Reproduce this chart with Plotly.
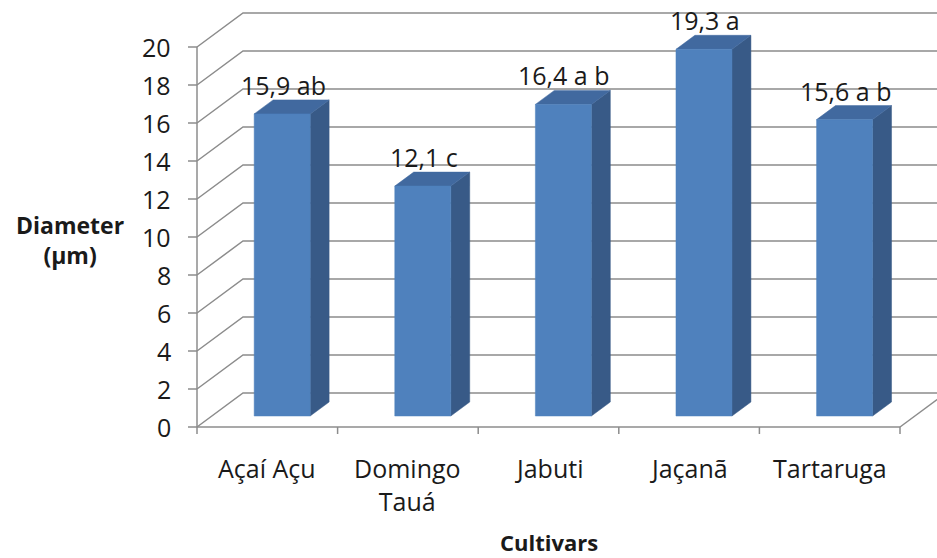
import plotly.graph_objects as go

# ---- data ----
categories = ["Açaí Açu", "Domingo<br>Tauá", "Jabuti", "Jaçanã", "Tartaruga"]
values = [15.9, 12.1, 16.4, 19.3, 15.6]
labels = ["15,9 ab", "12,1 c", "16,4 a b", "19,3 a", "15,6 a b"]
y_ticks = [0, 2, 4, 6, 8, 10, 12, 14, 16, 18, 20]
y_title = "Diameter<br>(µm)"
x_title = "Cultivars"

# ---- geometry (pixel calibration) ----
W, H = 937, 558
PX0, PXU = 197.0, 140.6   # pixel of x=0, pixels per category
PY0, PYU = 427.0, 19.0    # pixel of value 0, pixels per value unit
DX = 46 / PXU             # depth offset in x units
DY = 34 / PYU             # depth offset in value units
D1, D2 = 11 / 34, 25 / 34 # bar front/back depth fractions
HALF = 28 / PXU           # half bar width
GRID = "#8c8c8c"
FONT = "Open Sans"
TXT = "#1a1a1a"

fig = go.Figure()

def poly(xs, ys, color, line=None):
    fig.add_trace(go.Scatter(x=xs + [xs[0]], y=ys + [ys[0]], mode="lines",
                             fill="toself", fillcolor=color,
                             line=dict(color=line or color, width=0.5),
                             hoverinfo="skip"))

def seg(xs, ys, color=GRID, width=1.5):
    fig.add_trace(go.Scatter(x=xs, y=ys, mode="lines",
                             line=dict(color=color, width=width),
                             hoverinfo="skip"))

n = len(categories)
xmax_px = (W - PX0) / PXU

# gridlines: left wall diagonal + back wall horizontal
for v in y_ticks:
    seg([0, DX, xmax_px + 1], [v, v + DY, v + DY])
# floor right edge
seg([n, n + DX], [0, DY])
# axis lines
seg([0, 0], [0, y_ticks[-1]])
seg([0, n], [0, 0])
# y ticks
for v in y_ticks:
    seg([-9 / PXU, 0], [v, v])
# x ticks
for i in range(n + 1):
    seg([i, i], [0, -7 / PYU])

# bars
FRONT, TOP, SIDE = "#4f81bd", "#41699f", "#385a87"
for i, v in enumerate(values):
    c = i + 0.5
    fx0, fx1 = c - HALF + D1 * DX, c + HALF + D1 * DX
    fy0, fy1 = D1 * DY, v + D1 * DY
    bx = (D2 - D1) * DX
    by = (D2 - D1) * DY
    poly([fx1, fx1 + bx, fx1 + bx, fx1], [fy0, fy0 + by, fy1 + by, fy1], SIDE)
    poly([fx0, fx1, fx1 + bx, fx0 + bx], [fy1, fy1, fy1 + by, fy1 + by], TOP)
    poly([fx0, fx1, fx1, fx0], [fy0, fy0, fy1, fy1], FRONT)
    fig.add_annotation(x=(fx0 + fx1) / 2 + 1 / PXU, y=v + D2 * DY + 15 / PYU,
                       text=labels[i], showarrow=False, xanchor="center", yanchor="middle",
                       font=dict(family=FONT, size=25, color=TXT))

# y tick labels
for v in y_ticks:
    fig.add_annotation(x=-24 / PXU, y=v, text=str(v), showarrow=False,
                       xanchor="right", yanchor="middle",
                       font=dict(family=FONT, size=25, color=TXT))
# category labels
for i, cat in enumerate(categories):
    fig.add_annotation(x=i + 0.5, y=-22 / PYU, text=cat, showarrow=False,
                       xanchor="center", yanchor="top",
                       font=dict(family=FONT, size=25, color=TXT))
# axis titles
fig.add_annotation(x=(70 - PX0) / PXU, y=(PY0 - 240) / PYU, text="<b>" + y_title + "</b>",
                   showarrow=False, xanchor="center", yanchor="middle",
                   font=dict(family=FONT, size=23, color=TXT))
fig.add_annotation(x=n / 2, y=(PY0 - 542) / PYU, text="<b>" + x_title + "</b>",
                   showarrow=False, xanchor="center", yanchor="middle",
                   font=dict(family=FONT, size=22, color=TXT))

fig.update_layout(width=W, height=H, margin=dict(l=0, r=0, t=0, b=0),
                  paper_bgcolor="white", plot_bgcolor="white", showlegend=False,
                  xaxis=dict(range=[-PX0 / PXU, xmax_px], visible=False, fixedrange=True),
                  yaxis=dict(range=[(PY0 - H) / PYU, PY0 / PYU], visible=False, fixedrange=True))

fig.write_html("out.html", config={"displayModeBar": False},
               post_script="document.body.style.margin='0';document.body.style.overflow='hidden';")
